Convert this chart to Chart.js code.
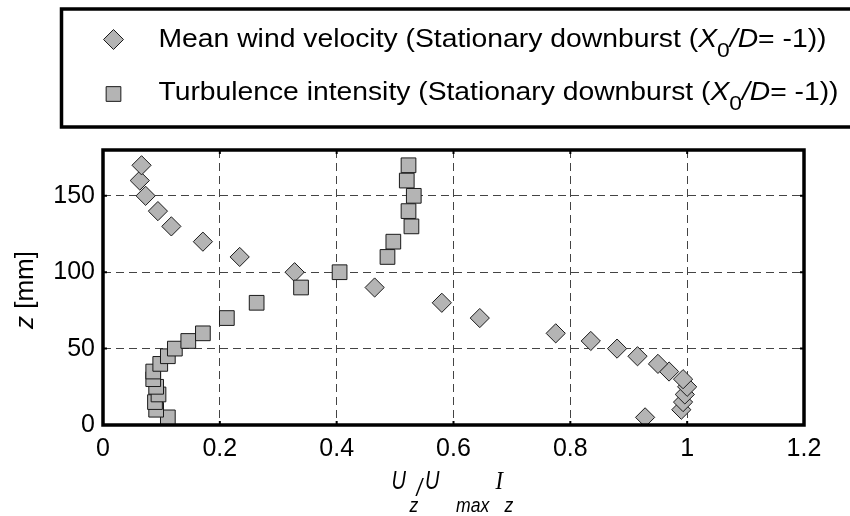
<!DOCTYPE html>
<html>
<head>
<meta charset="utf-8">
<script src="https://cdn.jsdelivr.net/npm/chart.js"></script>
<style>
  html, body { margin: 0; padding: 0; background: #fff; }
  #wrap { position: relative; width: 850px; height: 516px; }
</style>
</head>
<body>
<div id="wrap"><canvas id="profile" width="850" height="516"></canvas></div>
<script>
// Vertical profiles of a stationary downburst (X0/D = -1): mean wind velocity
// U_z/U_max and turbulence intensity I_z against height z.

const zLevels = [5, 10, 15, 20, 25, 30, 35, 40, 45, 50, 55, 60, 70, 80, 90, 100, 110, 120, 130, 140, 150, 160, 170];
const meanVelocity = [0.928, 0.990, 0.993, 0.996, 1.000, 0.993, 0.969, 0.950, 0.915, 0.880, 0.835, 0.775,
  0.645, 0.580, 0.465, 0.328, 0.234, 0.171, 0.117, 0.094, 0.073, 0.063, 0.066];
const turbulence = [0.111, 0.091, 0.089, 0.095, 0.091, 0.086, 0.086, 0.098, 0.111, 0.123, 0.146, 0.171,
  0.212, 0.263, 0.339, 0.405, 0.487, 0.497, 0.528, 0.523, 0.532, 0.520, 0.523];
const xTicks = [0, 0.2, 0.4, 0.6, 0.8, 1.0, 1.2];
const yTicks = [0, 50, 100, 150];
const seriesNames = ["Mean wind velocity", "Turbulence intensity"];

const FONT = '"Liberation Sans", Arial, sans-serif';
const FILL = "#b4b4b4";
const EDGE = "#1a1a1a";

const points = (xs) => xs.map((v, i) => ({ x: v, y: zLevels[i] }));

// draws a row of text runs (italic / subscript), squeezed to a target width
function drawRuns(ctx, runs, x, y, width, main = 26, sub = 21, drop = 10) {
  const setFont = (r) => (ctx.font = `${r.it ? "italic " : ""}${r.sub ? sub : main}px ${FONT}`);
  let natural = 0;
  runs.forEach((r) => { setFont(r); natural += ctx.measureText(r.t).width; });
  const sx = width ? width / natural : 1;
  ctx.save();
  ctx.translate(width ? x : x - natural / 2, y);
  ctx.scale(sx, 1);
  ctx.textAlign = "left";
  ctx.textBaseline = "alphabetic";
  let cx = 0;
  runs.forEach((r) => {
    setFont(r);
    ctx.fillText(r.t, cx, r.sub ? drop : 0);
    cx += ctx.measureText(r.t).width;
  });
  ctx.restore();
}

function piece(ctx, text, x, y, size, sx, family = FONT) {
  ctx.save();
  ctx.translate(x, y);
  ctx.scale(sx, 1);
  ctx.font = `italic ${size}px ${family}`;
  ctx.textAlign = "left";
  ctx.textBaseline = "alphabetic";
  ctx.fillText(text, 0, 0);
  ctx.restore();
}

function marker(ctx, style, radius, x, y) {
  ctx.fillStyle = FILL;
  ctx.strokeStyle = EDGE;
  ctx.lineWidth = 1;
  if (Chart.helpers && Chart.helpers.drawPoint) {
    Chart.helpers.drawPoint(ctx, { pointStyle: style, radius, borderWidth: 1, rotation: 0 }, x, y);
    return;
  }
  ctx.beginPath();
  if (style === "rectRot") {
    ctx.moveTo(x - radius, y); ctx.lineTo(x, y - radius); ctx.lineTo(x + radius, y); ctx.lineTo(x, y + radius);
  } else {
    const h = radius * Math.SQRT1_2;
    ctx.rect(x - h, y - h, 2 * h, 2 * h);
  }
  ctx.closePath();
  ctx.fill();
  ctx.stroke();
}

const decorations = {
  id: "decorations",
  afterDraw(chart) {
    const { ctx, chartArea: a, scales } = chart;
    const { x, y } = scales;
    ctx.save();

    // frame and inward tick marks
    ctx.strokeStyle = "#000";
    ctx.lineWidth = 2;
    x.ticks.forEach((t) => {
      const px = x.getPixelForValue(t.value);
      ctx.beginPath();
      ctx.moveTo(px, a.top); ctx.lineTo(px, a.top + 4);
      ctx.moveTo(px, a.bottom); ctx.lineTo(px, a.bottom - 4);
      ctx.stroke();
    });
    y.ticks.forEach((t) => {
      const py = y.getPixelForValue(t.value);
      ctx.beginPath();
      ctx.moveTo(a.left, py); ctx.lineTo(a.left + 4, py);
      ctx.moveTo(a.right, py); ctx.lineTo(a.right - 4, py);
      ctx.stroke();
    });
    ctx.lineWidth = 3.5;
    ctx.strokeRect(a.left, a.top, a.right - a.left, a.bottom - a.top);

    // legend box (runs off the right edge, as in the figure)
    ctx.strokeRect(61.5, 9, 820, 118);
    marker(ctx, "rectRot", 10, 113.5, 39.5);
    marker(ctx, "rect", 10.4, 113.5, 94);
    ctx.fillStyle = "#000";
    const tail = [
      { t: "X", it: true }, { t: "0", sub: true }, { t: "/", it: true }, { t: "D", it: true }, { t: "= -1))" },
    ];
    drawRuns(ctx, [{ t: `${seriesNames[0]} (Stationary downburst (` }, ...tail], 158.5, 46.5, 668);
    drawRuns(ctx, [{ t: `${seriesNames[1]} (Stationary downburst (` }, ...tail], 158.5, 100, 680);

    // x axis title: U_z/U_max  I_z
    piece(ctx, "U", 391.5, 489, 25, 0.8);
    piece(ctx, "z", 409.5, 511.5, 20, 0.88);
    piece(ctx, "/", 416.5, 496, 24, 0.85);
    piece(ctx, "U", 425, 489, 25, 0.8);
    piece(ctx, "max", 456, 511.5, 20, 0.88);
    piece(ctx, "I", 495.5, 489, 25, 0.9, '"Liberation Serif", "Times New Roman", serif');
    piece(ctx, "z", 504.5, 511.5, 20, 0.88);

    // y axis title: z [mm]
    ctx.save();
    ctx.translate(33, 290);
    ctx.rotate(-Math.PI / 2);
    drawRuns(ctx, [{ t: "z", it: true }, { t: " [mm]" }], 0, 0, 0, 26);
    ctx.restore();

    ctx.restore();
  },
};

new Chart(document.getElementById("profile"), {
  type: "scatter",
  data: {
    datasets: [
      {
        label: seriesNames[1],
        data: points(turbulence),
        pointStyle: "rect",
        pointRadius: 10.4,
        pointHoverRadius: 10.4,
        backgroundColor: FILL,
        borderColor: EDGE,
        borderWidth: 1,
        order: 0,
      },
      {
        label: seriesNames[0],
        data: points(meanVelocity),
        pointStyle: "rectRot",
        pointRadius: 9.6,
        pointHoverRadius: 9.6,
        backgroundColor: FILL,
        borderColor: EDGE,
        borderWidth: 1,
        order: 1,
      },
    ],
  },
  options: {
    responsive: false,
    animation: false,
    events: [],
    layout: { padding: { top: 150, right: 46, left: 0, bottom: 0 } },
    plugins: { legend: { display: false }, tooltip: { enabled: false } },
    scales: {
      x: {
        type: "linear",
        min: 0,
        max: 1.2,
        afterBuildTicks: (s) => (s.ticks = xTicks.map((v) => ({ value: v }))),
        afterFit: (s) => (s.height = 91),
        ticks: {
          color: "#000",
          font: { family: FONT, size: 25 },
          padding: 9,
          maxRotation: 0,
          callback: (v) => String(+v.toFixed(1)),
        },
        grid: { color: "#444", lineWidth: 1, drawTicks: false },
        border: { display: false, dash: [8, 5] },
      },
      y: {
        type: "linear",
        min: 0,
        max: 180,
        afterBuildTicks: (s) => (s.ticks = yTicks.map((v) => ({ value: v }))),
        afterFit: (s) => (s.width = 103),
        ticks: {
          color: "#000",
          font: { family: FONT, size: 25 },
          padding: 8,
          callback: (v) => String(v),
        },
        grid: { color: "#444", lineWidth: 1, drawTicks: false },
        border: { display: false, dash: [8, 5] },
      },
    },
  },
  plugins: [decorations],
});
</script>
</body>
</html>
